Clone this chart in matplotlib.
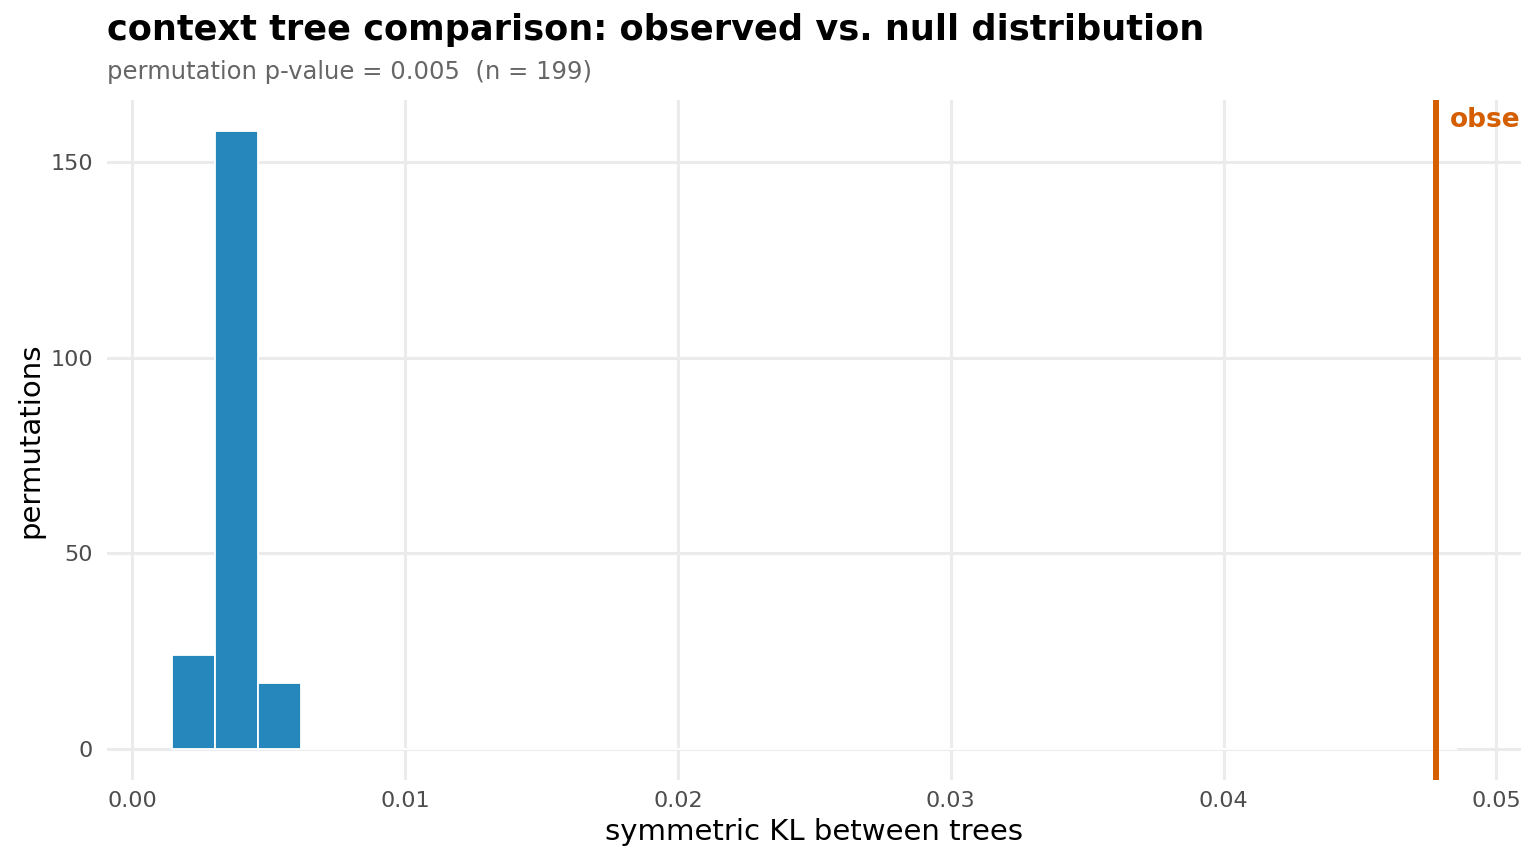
import numpy as np
import matplotlib.pyplot as plt

plt.rcParams['font.family'] = ['DejaVu Sans']

# histogram of the null distribution (30 bins, only first three non-empty)
bin_start = 0.00147
bin_width = 0.00157
counts = [24, 158, 17] + [0] * 27
observed = 0.04777

title = "context tree comparison: observed vs. null distribution"
subtitle = "permutation p-value = 0.005  (n = 199)"
x_ticks = [0.00, 0.01, 0.02, 0.03, 0.04, 0.05]
y_ticks = [0, 50, 100, 150]

bar_col = "#2687BC"
obs_col = "#D55E00"
grid_col = "#EBEBEB"

fig = plt.figure(figsize=(15.36, 8.64), dpi=100)
ax = fig.add_axes([107 / 1536, 84 / 864, 1414 / 1536, 680 / 864])

lefts = bin_start + bin_width * np.arange(len(counts))
ax.bar(lefts, counts, width=bin_width, align="edge", color=bar_col,
       edgecolor="white", linewidth=1.3, zorder=2)

ax.axvline(observed, color=obs_col, linewidth=4.3, zorder=3)
# label runs past the panel edge and is clipped there, as in the original
ax.annotate("observed", xy=(observed, 1), xycoords=("data", "axes fraction"),
            xytext=(10, -5), textcoords="offset points", ha="left", va="top",
            color=obs_col, fontsize=19, fontweight="bold",
            annotation_clip=False, clip_on=True)

ax.set_xlim(-0.00092, 0.0509)
ax.set_ylim(-7.9, 165.9)
ax.set_xticks(x_ticks)
ax.set_xticklabels([f"{v:.2f}" for v in x_ticks])
ax.set_yticks(y_ticks)

ax.grid(True, color=grid_col, linewidth=2.2, zorder=0)
ax.set_axisbelow(True)
for s in ax.spines.values():
    s.set_visible(False)
ax.tick_params(length=0, labelsize=16, labelcolor="#4D4D4D")
ax.tick_params(axis="x", pad=8)
ax.tick_params(axis="y", pad=10)

ax.set_xlabel("symmetric KL between trees", fontsize=21, va="center")
ax.set_ylabel("permutations", fontsize=21, va="center")
ax.xaxis.set_label_coords(0.5, -52 / 680)
ax.yaxis.set_label_coords(-77 / 1414, 0.5)

fig.text(107 / 1536, 1 - 30 / 864, title, fontsize=25.3, fontweight="bold",
         ha="left", va="center")
fig.text(107 / 1536, 1 - 72 / 864, subtitle, fontsize=17.5, color="#666666",
         ha="left", va="center")

fig.savefig("out.png", dpi=100)
